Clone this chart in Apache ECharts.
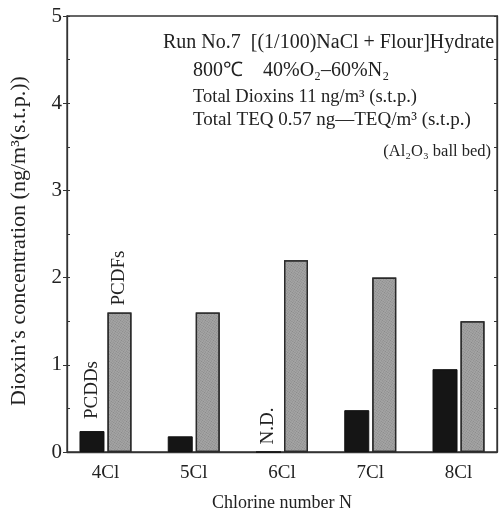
<!DOCTYPE html>
<html><head><meta charset="utf-8">
<script src="https://cdn.jsdelivr.net/npm/echarts@6/dist/echarts.min.js"></script>
<style>html,body{margin:0;padding:0;background:#fff}#c{width:500px;height:518px}</style>
</head><body><div id="c"></div>
<script>
const categories = ['4Cl', '5Cl', '6Cl', '7Cl', '8Cl'];
const chlorineN = [4, 5, 6, 7, 8];
const pcdds = [0.24, 0.18, 0, 0.48, 0.95];
const pcdfs = [1.6, 1.6, 2.2, 2.0, 1.5];
const yTickLabels = ['0', '1', '2', '3', '4', '5'];
const notes = [
  'Run No.7  [(1/100)NaCl + Flour]Hydrate',
  '800\u2103    40%O\u2082\u201360%N\u2082',
  'Total Dioxins 11 ng/m\u00B3 (s.t.p.)',
  'Total TEQ 0.57 ng\u2014TEQ/m\u00B3 (s.t.p.)',
  '(Al\u2082O\u2083 ball bed)'
];

const FONT = '"Liberation Serif", "Times New Roman", serif';
const INK = '#222';

const chart = echarts.init(document.getElementById('c'), null, {renderer: 'canvas'});

const ddData = chlorineN.map((n, i) => {
  const item = {value: [n, pcdds[i]]};
  if (i === 0) item.label = {show: true, formatter: 'PCDDs', distance: 12};
  if (pcdds[i] === 0) item.label = {show: true, formatter: 'N.D.', distance: 7};
  return item;
});
const dfData = chlorineN.map((n, i) => {
  const item = {value: [n, pcdfs[i]]};
  if (i === 0) item.label = {show: true, formatter: 'PCDFs', distance: 7};
  return item;
});

const vLabel = {
  show: false, position: 'top', rotate: 90, align: 'left', verticalAlign: 'middle',
  fontFamily: FONT, fontSize: 19, color: INK
};

chart.setOption({
  animation: false,
  backgroundColor: '#fff',
  grid: {left: 67, right: 3, top: 16, bottom: 66, show: true, borderColor: '#333', borderWidth: 1.3, containLabel: false},
  xAxis: {
    type: 'value', min: 3.564, max: 8.436,
    axisLine: {show: true, onZero: false, lineStyle: {color: '#333', width: 1.3}},
    axisTick: {show: false},
    splitLine: {show: false},
    axisLabel: {
      customValues: chlorineN,
      formatter: v => categories[chlorineN.indexOf(Math.round(v))] || '',
      fontFamily: FONT, fontSize: 19, color: INK, margin: 12
    },
    name: 'Chlorine number N', nameLocation: 'middle', nameGap: 42,
    nameTextStyle: {fontFamily: FONT, fontSize: 18, color: INK}
  },
  yAxis: [
    {
      type: 'value', min: 0, max: 5, interval: 1, position: 'left',
      axisLine: {show: true, lineStyle: {color: '#333', width: 1.3}},
      axisTick: {show: true, inside: false, length: 4, lineStyle: {color: '#333'}},
      splitLine: {show: false},
      axisLabel: {formatter: v => yTickLabels[Math.round(v)], fontFamily: FONT, fontSize: 21, color: INK, margin: 5},
      name: 'Dioxin\u2019s concentration (ng/m\u00B3(s.t.p.))', nameLocation: 'middle', nameGap: 37, nameRotate: 90,
      nameTextStyle: {fontFamily: FONT, fontSize: 22, color: INK, padding: [0, 14, 0, 0]}
    },
    {
      type: 'value', min: 0, max: 5, interval: 0.5, position: 'left',
      axisLine: {show: false}, axisLabel: {show: false}, splitLine: {show: false},
      axisTick: {show: true, inside: true, length: 3, lineStyle: {color: '#333'}}
    },
    {
      type: 'value', min: 0, max: 5, interval: 0.5, position: 'right',
      axisLine: {show: true, lineStyle: {color: '#333', width: 1.3}}, axisLabel: {show: false}, splitLine: {show: false},
      axisTick: {show: true, inside: true, length: 3, lineStyle: {color: '#333'}}
    }
  ],
  series: [
    {
      name: 'PCDDs', type: 'bar', yAxisIndex: 0, barWidth: 25, barGap: '12%',
      data: ddData,
      itemStyle: {color: '#151515', borderColor: '#111', borderWidth: 1},
      label: vLabel
    },
    {
      name: 'PCDFs', type: 'bar', yAxisIndex: 0, barWidth: 24, barGap: '12%',
      data: dfData,
      itemStyle: {
        color: '#a4a4a4', borderColor: '#2a2a2a', borderWidth: 1.3,
        decal: {symbol: 'rect', symbolSize: 1, dashArrayX: [1, 1], dashArrayY: [1, 1], color: 'rgba(80,80,80,0.35)', rotation: 0.6}
      },
      label: vLabel
    }
  ],
  graphic: [
    {type: 'text', left: 163, top: 33, style: {text: notes[0], font: '20px ' + FONT, fill: INK}},
    {type: 'text', left: 193, top: 61, style: {text: notes[1], font: '20px ' + FONT, fill: INK}},
    {type: 'text', left: 193, top: 88, style: {text: notes[2], font: '18.5px ' + FONT, fill: INK}},
    {type: 'text', left: 193, top: 111, style: {text: notes[3], font: '19px ' + FONT, fill: INK}},
    {type: 'text', right: 9, top: 143, style: {text: notes[4], font: '16.5px ' + FONT, fill: INK}}
  ]
});
</script></body></html>
